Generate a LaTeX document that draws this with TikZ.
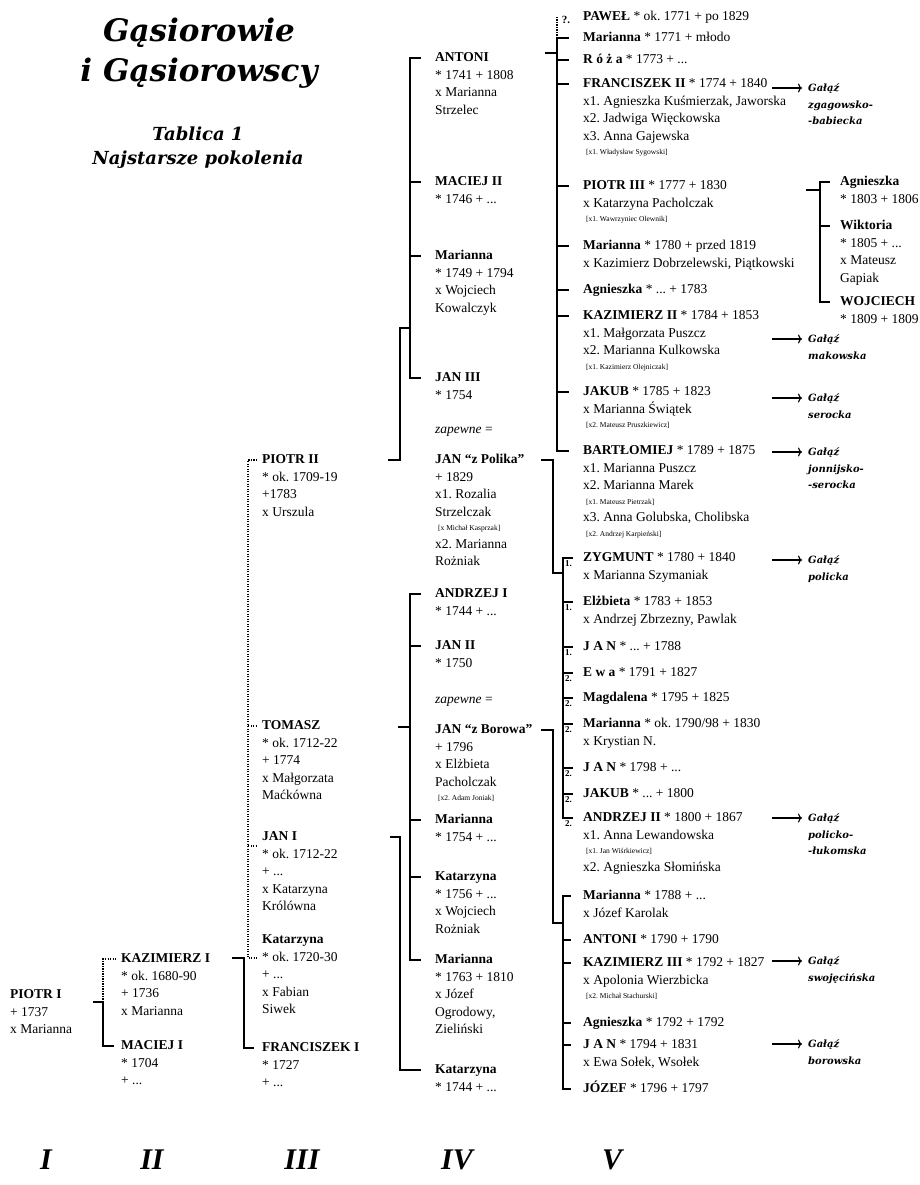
\documentclass[tikz,border=0pt]{standalone}
\usepackage{fontspec}
\setmainfont{Liberation Serif}
\newfontfamily\dejavu{DejaVu Serif}
\usetikzlibrary{arrows.meta}
\newcommand{\male}{\fontsize{7.5}{9}\selectfont}
\frenchspacing

\begin{document}
\begin{tikzpicture}
	[%%%%%%%%%%%%%%%%%%%%%%%%%%%%%%
	x=1pt, y=-1pt,
	imie/.style={anchor=west, inner sep=0pt, font=\fontsize{13.5}{17.5}\selectfont, execute at begin node=\strut},
	dane/.style={anchor=north west, inner sep=0pt, align=left, font=\fontsize{13.5}{17.5}\selectfont},
	galaz/.style={anchor=north west, inner sep=0pt, align=left, font=\dejavu\bfseries\itshape\fontsize{10}{16.5}\selectfont},
	linia/.style={line width=1.4pt},
	kropki/.style={line width=1.3pt, dash pattern=on 1.2pt off 1.3pt},
	strzalka/.style={line width=1.1pt, -{To[length=4pt,width=9pt]}},
	numer/.style={font=\bfseries\itshape\fontsize{30}{30}\selectfont},
	nr/.style={inner sep=0pt, font=\bfseries\fontsize{9}{9}\selectfont},
	]%%%%%%%%%%%%%%%%%%%%%%%%%%%%%%
	
	\fill[white] (0,0) rectangle (920,1185);
	\useasboundingbox (0,0) rectangle (920,1185);
	
	% tytul
	\node[font=\dejavu\bfseries\itshape\fontsize{31}{40}\selectfont, align=center, inner sep=0pt] (tytul) at (199,53) {Gąsiorowie\\i Gąsiorowscy};
	\node[font=\dejavu\bfseries\itshape\fontsize{18}{24}\selectfont, align=center, inner sep=0pt] (tablica) at (198,148) {Tablica 1\\Najstarsze pokolenia};
	
	% pokolenie I
	\node[imie] (piotr1) at (10,995) {\textbf{PIOTR I}};
	\node[dane] (piotr1d) at (piotr1.south west) {\strut + 1737\\x Marianna};
	
	% pokolenie II
	\node[imie] (kazimierz1) at (121,959) {\textbf{KAZIMIERZ I}};
	\node[dane] (kazimierz1d) at (kazimierz1.south west) {\strut * ok. 1680-90\\+ 1736\\x Marianna};
	\node[imie] (maciej1) at (121,1046) {\textbf{MACIEJ I}};
	\node[dane] (maciej1d) at (maciej1.south west) {\strut * 1704\\+ ...};
	
	\coordinate (wII) at (103,1002);
	\draw[linia] (wII) ++(-10,0) -- (wII) |- ([xshift=-7pt]maciej1.west);
	\draw[kropki] (wII) |- ([xshift=-5pt]kazimierz1.west);
	
	% pokolenie III
	\node[imie] (piotr2) at (262,460) {\textbf{PIOTR II}};
	\node[dane] (piotr2d) at (piotr2.south west) {\strut * ok. 1709-19\\+1783\\x Urszula};
	\node[imie] (tomasz) at (262,726) {\textbf{TOMASZ}};
	\node[dane] (tomaszd) at (tomasz.south west) {\strut * ok. 1712-22\\+ 1774\\x Małgorzata\\Maćkówna};
	\node[imie] (jan1) at (262,837) {\textbf{JAN I}};
	\node[dane] (jan1d) at (jan1.south west) {\strut * ok. 1712-22\\+ ...\\x Katarzyna\\Królówna};
	\node[imie] (katarzyna1) at (262,940) {\textbf{Katarzyna}};
	\node[dane] (katarzyna1d) at (katarzyna1.south west) {\strut * ok. 1720-30\\+ ...\\x Fabian\\Siwek};
	\node[imie] (franciszek1) at (262,1048) {\textbf{FRANCISZEK I}};
	\node[dane] (franciszek1d) at (franciszek1.south west) {\strut * 1727\\+ ...};
	
	\coordinate (wIII) at (244,958);
	\coordinate (dIII) at (248,958);
	\draw[linia] (wIII) ++(-12,0) -- (wIII) |- ([xshift=-8pt]franciszek1.west);
	\draw[kropki] ([xshift=-5pt]piotr2.west) -| (dIII) -- ++(9,0);
	\draw[kropki] (dIII |- tomasz.west) -- ([xshift=-5pt]tomasz.west);
	\draw[kropki] (dIII |- jan1.south) -- ([xshift=-5pt]jan1.south west);
	
	% pokolenie IV
	\node[imie] (antoni1) at (435,58) {\textbf{ANTONI}};
	\node[dane] (antoni1d) at (antoni1.south west) {\strut * 1741 + 1808\\x Marianna\\Strzelec};
	\node[imie] (maciej2) at (435,182) {\textbf{MACIEJ II}};
	\node[dane] (maciej2d) at (maciej2.south west) {\strut * 1746 + ...};
	\node[imie] (marianna1) at (435,256) {\textbf{Marianna}};
	\node[dane] (marianna1d) at (marianna1.south west) {\strut * 1749 + 1794\\x Wojciech\\Kowalczyk};
	\node[imie] (jan3) at (435,378) {\textbf{JAN III}};
	\node[dane] (jan3d) at (jan3.south west) {\strut * 1754};
	\node[imie] (zapewne1) at (435,430) {\textit{zapewne} =};
	\node[imie] (janpolik) at (435,460) {\textbf{JAN “z Polika”}};
	\node[dane] (janpolikd) at (janpolik.south west) {\strut + 1829\\x1. Rozalia\\Strzelczak\\[-3pt]\hspace{3pt}{\male [x Michał Kasprzak]}\\x2. Marianna\\Rożniak};
	
	\node[imie] (andrzej1) at (435,594) {\textbf{ANDRZEJ I}};
	\node[dane] (andrzej1d) at (andrzej1.south west) {\strut * 1744 + ...};
	\node[imie] (jan2) at (435,646) {\textbf{JAN II}};
	\node[dane] (jan2d) at (jan2.south west) {\strut * 1750};
	\node[imie] (zapewne2) at (435,700) {\textit{zapewne} =};
	\node[imie] (janborow) at (435,730) {\textbf{JAN “z Borowa”}};
	\node[dane] (janborowd) at (janborow.south west) {\strut + 1796\\x Elżbieta\\Pacholczak\\[-3pt]\hspace{3pt}{\male [x2. Adam Joniak]}};
	\node[imie] (marianna2) at (435,820) {\textbf{Marianna}};
	\node[dane] (marianna2d) at (marianna2.south west) {\strut * 1754 + ...};
	\node[imie] (katarzyna2) at (435,877) {\textbf{Katarzyna}};
	\node[dane] (katarzyna2d) at (katarzyna2.south west) {\strut * 1756 + ...\\x Wojciech\\Rożniak};
	\node[imie] (marianna3) at (435,960) {\textbf{Marianna}};
	\node[dane] (marianna3d) at (marianna3.south west) {\strut * 1763 + 1810\\x Józef\\Ogrodowy,\\Zieliński};
	\node[imie] (katarzyna3) at (435,1070) {\textbf{Katarzyna}};
	\node[dane] (katarzyna3d) at (katarzyna3.south west) {\strut * 1744 + ...};
	
	% dzieci Piotra II
	\coordinate (pA) at (400,328);
	\coordinate (kA) at (410,328);
	\draw[linia] (pA |- piotr2.west) ++(-12,0) -- (pA |- piotr2.west) -- (pA) -- (kA);
	\draw[linia] ([xshift=-14pt]antoni1.west) -| (kA |- jan3.west) -- ([xshift=-14pt]jan3.west);
	\foreach \n in {maciej2,marianna1}
		\draw[linia] (kA |- \n.west) -- ([xshift=-14pt]\n.west);
	
	% dzieci Tomasza
	\coordinate (kB) at (410,727);
	\draw[linia] (kB) ++(-12,0) -- (kB);
	\draw[linia] ([xshift=-14pt]andrzej1.west) -| (kB |- marianna3.west) -- ([xshift=-14pt]marianna3.west);
	\foreach \n in {jan2,marianna2,katarzyna2}
		\draw[linia] (kB |- \n.west) -- ([xshift=-14pt]\n.west);
	
	% dziecko Jana I
	\coordinate (kC) at (400,837);
	\draw[linia] (kC |- jan1.west) ++(-10,0) -| (kC |- katarzyna3.west) -- ([xshift=-14pt]katarzyna3.west);
	
	% pokolenie V
	\node[imie] (pawel) at (583,17) {\textbf{PAWEŁ} * ok. 1771 + po 1829};
	\node[imie] (marianna4) at (583,38) {\textbf{Marianna} * 1771 + młodo};
	\node[imie] (roza) at (583,60) {\textbf{R ó ż a} * 1773 + ...};
	\node[imie] (franciszek2) at (583,84) {\textbf{FRANCISZEK II} * 1774 + 1840};
	\node[dane] (franciszek2d) at (franciszek2.south west) {\strut x1. Agnieszka Kuśmierzak, Jaworska\\x2. Jadwiga Więckowska\\x3. Anna Gajewska\\[-3pt]\hspace{3pt}{\male [x1. Władysław Sygowski]}};
	\node[imie] (piotr3) at (583,186) {\textbf{PIOTR III} * 1777 + 1830};
	\node[dane] (piotr3d) at (piotr3.south west) {\strut x Katarzyna Pacholczak\\[-3pt]\hspace{3pt}{\male [x1. Wawrzyniec Olewnik]}};
	\node[imie] (marianna5) at (583,246) {\textbf{Marianna} * 1780 + przed 1819};
	\node[dane] (marianna5d) at (marianna5.south west) {\strut x Kazimierz Dobrzelewski, Piątkowski};
	\node[imie] (agnieszka1) at (583,290) {\textbf{Agnieszka} * ... + 1783};
	\node[imie] (kazimierz2) at (583,316) {\textbf{KAZIMIERZ II} * 1784 + 1853};
	\node[dane] (kazimierz2d) at (kazimierz2.south west) {\strut x1. Małgorzata Puszcz\\x2. Marianna Kulkowska\\[-3pt]\hspace{3pt}{\male [x1. Kazimierz Olejniczak]}};
	\node[imie] (jakub1) at (583,392) {\textbf{JAKUB} * 1785 + 1823};
	\node[dane] (jakub1d) at (jakub1.south west) {\strut x Marianna Świątek\\[-3pt]\hspace{3pt}{\male [x2. Mateusz Pruszkiewicz]}};
	\node[imie] (bartlomiej) at (583,451) {\textbf{BARTŁOMIEJ} * 1789 + 1875};
	\node[dane] (bartlomiejd) at (bartlomiej.south west) {\strut x1. Marianna Puszcz\\x2. Marianna Marek\\[-3pt]\hspace{3pt}{\male [x1. Mateusz Pietrzak]}\\x3. Anna Golubska, Cholibska\\[-3pt]\hspace{3pt}{\male [x2. Andrzej Karpieński]}};
	
	\node[imie] (zygmunt) at (583,558) {\textbf{ZYGMUNT} * 1780 + 1840};
	\node[dane] (zygmuntd) at (zygmunt.south west) {\strut x Marianna Szymaniak};
	\node[imie] (elzbieta) at (583,602) {\textbf{Elżbieta} * 1783 + 1853};
	\node[dane] (elzbietad) at (elzbieta.south west) {\strut x Andrzej Zbrzezny, Pawlak};
	\node[imie] (jan4) at (583,647) {\textbf{J A N} * ... + 1788};
	\node[imie] (ewa) at (583,673) {\textbf{E w a} * 1791 + 1827};
	\node[imie] (magdalena) at (583,698) {\textbf{Magdalena} * 1795 + 1825};
	\node[imie] (marianna6) at (583,724) {\textbf{Marianna} * ok. 1790/98 + 1830};
	\node[dane] (marianna6d) at (marianna6.south west) {\strut x Krystian N.};
	\node[imie] (jan5) at (583,768) {\textbf{J A N} * 1798 + ...};
	\node[imie] (jakub2) at (583,794) {\textbf{JAKUB} * ... + 1800};
	\node[imie] (andrzej2) at (583,818) {\textbf{ANDRZEJ II} * 1800 + 1867};
	\node[dane] (andrzej2d) at (andrzej2.south west) {\strut x1. Anna Lewandowska\\[-3pt]\hspace{3pt}{\male [x1. Jan Wiśrkiewicz]}\\x2. Agnieszka Słomińska};
	
	\node[imie] (marianna7) at (583,896) {\textbf{Marianna} * 1788 + ...};
	\node[dane] (marianna7d) at (marianna7.south west) {\strut x Józef Karolak};
	\node[imie] (antoni2) at (583,940) {\textbf{ANTONI} * 1790 + 1790};
	\node[imie] (kazimierz3) at (583,963) {\textbf{KAZIMIERZ III} * 1792 + 1827};
	\node[dane] (kazimierz3d) at (kazimierz3.south west) {\strut x Apolonia Wierzbicka\\[-3pt]\hspace{3pt}{\male [x2. Michał Stachurski]}};
	\node[imie] (agnieszka2) at (583,1023) {\textbf{Agnieszka} * 1792 + 1792};
	\node[imie] (jan6) at (583,1045) {\textbf{J A N} * 1794 + 1831};
	\node[dane] (jan6d) at (jan6.south west) {\strut x Ewa Sołek, Wsołek};
	\node[imie] (jozef) at (583,1089) {\textbf{JÓZEF} * 1796 + 1797};
	
	% dzieci Antoniego
	\coordinate (kV1) at (557,53);
	\draw[linia] (kV1) ++(-12,0) -- (kV1);
	\draw[kropki] (kV1 |- pawel.west) -- (kV1 |- marianna4.west);
	\node[nr, font=\bfseries\fontsize{11}{11}\selectfont] (pyt) at ([xshift=-17pt,yshift=-3pt]pawel.west) {?.};
	\draw[linia] ([xshift=-14pt]marianna4.west) -| (kV1 |- bartlomiej.west) -- ([xshift=-14pt]bartlomiej.west);
	\foreach \n in {roza,franciszek2,piotr3,marianna5,agnieszka1,kazimierz2,jakub1}
		\draw[linia] (kV1 |- \n.west) -- ([xshift=-14pt]\n.west);
	
	% dzieci Jana "z Polika"
	\coordinate (pV2) at (553,573);
	\coordinate (kV2) at (563,573);
	\draw[linia] (pV2 |- janpolik.west) ++(-12,0) -- (pV2 |- janpolik.west) -- (pV2) -- (kV2);
	\draw[linia] ([xshift=-10pt]zygmunt.west) -| (kV2 |- andrzej2.west) -- ([xshift=-10pt]andrzej2.west);
	\foreach \n in {elzbieta,jan4,ewa,magdalena,marianna6,jan5,jakub2}
		\draw[linia] (kV2 |- \n.west) -- ([xshift=-10pt]\n.west);
	\foreach \n/\k in {zygmunt/1,elzbieta/1,jan4/1,ewa/2,magdalena/2,marianna6/2,jan5/2,jakub2/2,andrzej2/2}
		\node[nr] (nr\n) at ([xshift=-14.5pt,yshift=-6pt]\n.west) {\k.};
	
	% dzieci Jana "z Borowa"
	\coordinate (pV3) at (553,923);
	\coordinate (kV3) at (563,923);
	\draw[linia] (pV3 |- janborow.west) ++(-12,0) -- (pV3 |- janborow.west) -- (pV3) -- (kV3);
	\draw[linia] ([xshift=-12pt]marianna7.west) -| (kV3 |- jozef.west) -- ([xshift=-12pt]jozef.west);
	\foreach \n in {antoni2,kazimierz3,agnieszka2,jan6}
		\draw[linia] (kV3 |- \n.west) -- ([xshift=-12pt]\n.west);
	
	% pokolenie VI
	\node[imie] (agnieszka3) at (840,182) {\textbf{Agnieszka}};
	\node[dane] (agnieszka3d) at (agnieszka3.south west) {\strut * 1803 + 1806};
	\node[imie] (wiktoria) at (840,226) {\textbf{Wiktoria}};
	\node[dane] (wiktoriad) at (wiktoria.south west) {\strut * 1805 + ...\\x Mateusz\\Gapiak};
	\node[imie] (wojciech) at (840,302) {\textbf{WOJCIECH}};
	\node[dane] (wojciechd) at (wojciech.south west) {\strut * 1809 + 1809};
	
	\coordinate (kVI) at (820,190);
	\draw[linia] (kVI) ++(-14,0) -- (kVI);
	\draw[linia] ([xshift=-10pt]agnieszka3.west) -| (kVI |- wojciech.west) -- ([xshift=-10pt]wojciech.west);
	\draw[linia] (kVI |- wiktoria.west) -- ([xshift=-10pt]wiktoria.west);
	
	% galezie
	\node[galaz] (g1) at (808,80) {\strut Gałąź\\zgagowsko-\\-babiecka};
	\node[galaz] (g2) at (808,331) {\strut Gałąź\\makowska};
	\node[galaz] (g3) at (808,390) {\strut Gałąź\\serocka};
	\node[galaz] (g4) at (808,444) {\strut Gałąź\\jonnijsko-\\-serocka};
	\node[galaz] (g5) at (808,552) {\strut Gałąź\\policka};
	\node[galaz] (g6) at (808,810) {\strut Gałąź\\policko-\\-łukomska};
	\node[galaz] (g7) at (808,953) {\strut Gałąź\\swojęcińska};
	\node[galaz] (g8) at (808,1036) {\strut Gałąź\\borowska};
	\foreach \g in {g1,g2,g3,g4,g5,g6,g7,g8}
		\draw[strzalka] ([xshift=-36pt,yshift=-8pt]\g.north west) -- ([xshift=-6pt,yshift=-8pt]\g.north west);
	
	% pokolenia
	\node[numer] (n1) at (46,1160) {I};
	\node[numer] (n2) at (152,1160) {II};
	\node[numer] (n3) at (302,1160) {III};
	\node[numer] (n4) at (457,1160) {IV};
	\node[numer] (n5) at (612,1160) {V};
	
\end{tikzpicture}
\end{document}
